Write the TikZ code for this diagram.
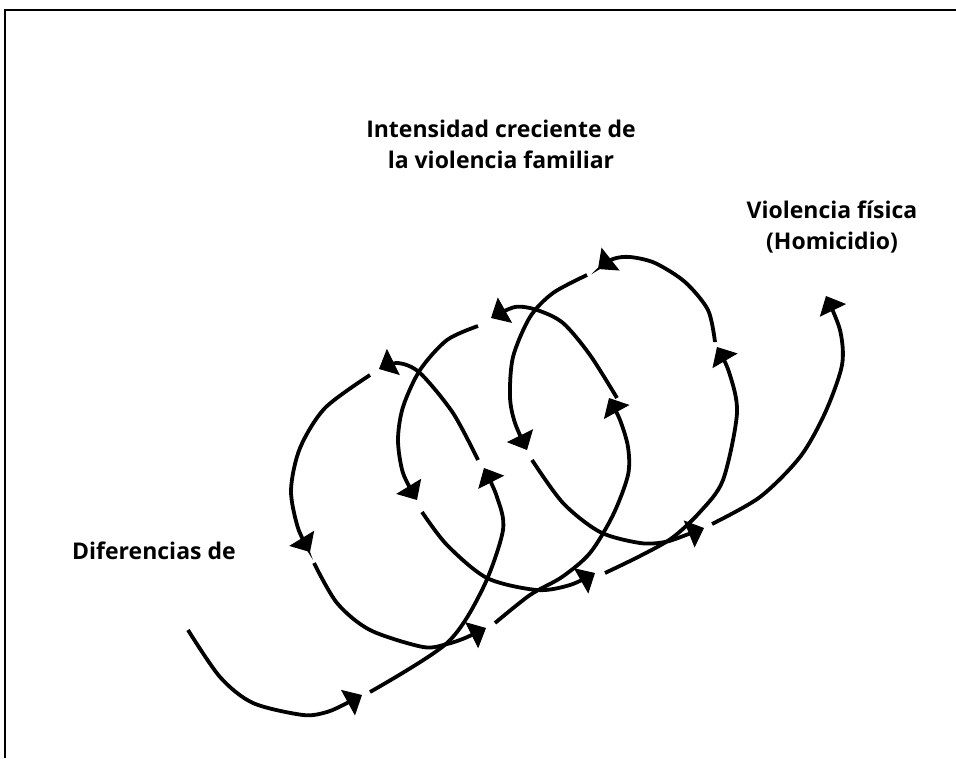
\documentclass[tikz,border=0pt]{standalone}
\usepackage{fontspec}
\setmainfont{Open Sans}
\usetikzlibrary{arrows.meta}
\begin{document}
\begin{tikzpicture}[x=1pt,y=-1pt,
  coil/.style={line width=3.8pt,-{Triangle[width=29pt,length=16pt,line width=1pt]}},
  lbl/.style={font=\bfseries\fontsize{23}{31}\selectfont,align=center,inner sep=0pt}]
\useasboundingbox (0,0) rectangle (956,758);
\draw[line width=1.6pt] (5,758) -- (5,10) -- (956,10);
% labels
\node[lbl,anchor=base] (titulo) at (501,168) {Intensidad creciente de\\la violencia familiar};
\node[lbl,anchor=base] (fisica) at (832,249) {Violencia física\\(Homicidio)};
\node[lbl,anchor=base west] (dif) at (72,559) {Diferencias de};
% start
\draw[coil] plot[smooth] coordinates {(188,630) (220,677) (253,703) (303,715) (327,712) (345,704) (362,695)};
% loop 1
\draw[coil] plot[smooth] coordinates {(370,692) (447,643) (483,588) (503,530) (497,497) (484,468)};
\draw[coil] plot[smooth] coordinates {(478,460) (453,413) (420,373) (398,363) (379,369)};
\draw[coil] plot[smooth] coordinates {(370,375) (325,408) (300,448) (291,490) (298,528) (310,552)};
\draw[coil] plot[smooth] coordinates {(314,563) (337,603) (370,630) (423,647) (447,644) (465,638) (486,628)};
% loop 2
\draw[coil] plot[smooth] coordinates {(495,623) (530,595) (562,577) (590,553) (613,515) (628,475) (628,447) (620,420) (609,398)};
\draw[coil] plot[smooth] coordinates {(617,398) (590,355) (563,323) (537,310) (515,307) (491,318)};
\draw[coil] plot[smooth] coordinates {(478,326) (447,340) (420,370) (403,407) (398,440) (403,473) (417,500)};
\draw[coil] plot[smooth] coordinates {(422,512) (447,545) (487,578) (537,590) (570,585) (595,573)};
% loop 3
\draw[coil] plot[smooth] coordinates {(605,573) (640,556) (672,538) (700,512) (723,480) (737,413) (729,372) (717,347)};
\draw[coil] plot[smooth] coordinates {(715,342) (708,310) (685,282) (655,263) (630,257) (613,259) (598,269)};
\draw[coil] plot[smooth] coordinates {(587,275) (553,293) (530,317) (513,357) (510,397) (515,423) (527,450)};
\draw[coil] plot[smooth] coordinates {(532,460) (563,503) (600,532) (640,543) (665,542) (686,535) (704,528)};
% final
\draw[coil] plot[smooth] coordinates {(712,524) (760,497) (800,457) (825,413) (842,365) (840,330) (826,296)};
\end{tikzpicture}
\end{document}
